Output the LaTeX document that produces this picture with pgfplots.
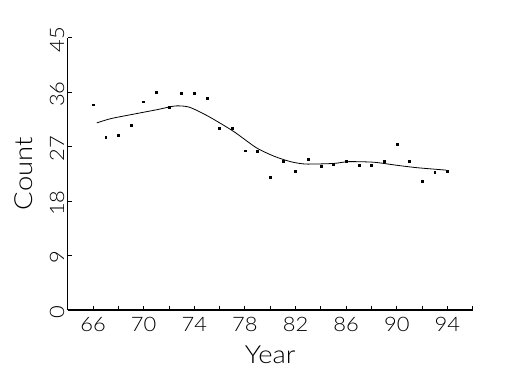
\documentclass[border=0pt]{standalone}
\usepackage{pgfplots}
\pgfplotsset{compat=1.18}
\usepackage{fontspec}
\setmainfont{Lato}[UprightFont=*-Light, FakeStretch=1.1]
\begin{document}
\begin{tikzpicture}
\begin{axis}[name=ax, at={(0,0)}, anchor=south west,
 scale only axis, width=405bp, height=272.5bp,
 xmin=64, xmax=96, ymin=0, ymax=45,
 axis x line*=bottom, axis y line*=left,
 axis line style={line width=1.6bp, -},
 xtick={66,70,...,94}, minor xtick={68,72,...,92,96}, ytick={0,9,...,45},
 tick align=inside, major tick length=4bp, minor tick length=4bp,
 tick style={line width=0.8bp, black},
 ticklabel style={font=\fontsize{20}{22}\selectfont},
 /pgf/number format/assume math mode=true,
 yticklabel style={rotate=90, anchor=south, xshift=-2bp},
 xticklabel style={yshift=-4bp},
 xlabel={Year}, ylabel={Count},
 label style={font=\fontsize{25}{28}\selectfont},
 ylabel style={at={(axis description cs:-0.109,0.5)}, anchor=center},
 xlabel style={at={(axis description cs:0.5,-0.165)}, anchor=center},
 clip=false,
]
\addplot[only marks, mark=square*, mark size=0.95bp, black] coordinates {
(66,33.9) (67,28.6) (68,28.9) (69,30.5) (70,34.4) (71,36.0) (72,33.5)
(73,35.8) (74,35.8) (75,35.0) (76,30.0) (77,30.0) (78,26.3) (79,26.2)
(80,21.9) (81,24.6) (82,22.9) (83,24.9) (84,23.8) (85,24.1) (86,24.6)
(87,23.9) (88,23.9) (89,24.5) (90,27.4) (91,24.6) (92,21.3) (93,22.8)
(94,22.9)};
\addplot[black, line width=0.8bp, smooth, tension=0.4] coordinates {
(66.3,30.9) (67.4,31.6) (69.1,32.3) (71.1,33.1) (72.5,33.7) (73.6,33.5)
(75.1,32.0) (77.1,29.5) (78.9,26.8) (80.3,25.4) (81.6,24.5) (82.8,24.1)
(85.0,24.2) (86.2,24.5) (88.2,24.4) (90.0,23.9) (91.6,23.5) (93.9,23.1)};
\end{axis}
\path (ax.south west) ++(-67.7bp,-65bp) rectangle ++(525bp,375bp);
\end{tikzpicture}
\end{document}
